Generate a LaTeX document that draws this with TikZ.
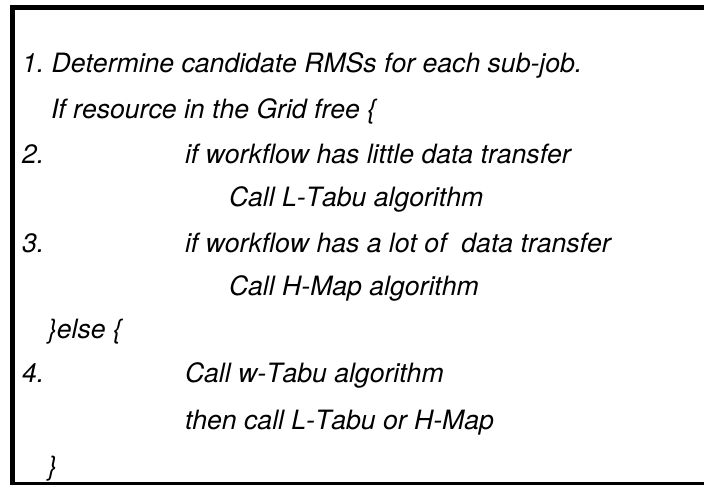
\documentclass[tikz,border=0pt]{standalone}
\usepackage{fontspec}
\setmainfont[Kerning=Off]{TeX Gyre Heros}
\frenchspacing
\begin{document}
\begin{tikzpicture}[x=1pt,y=-1pt,
  codeline/.style={anchor=base west,inner sep=0pt,outer sep=0pt,
    font=\fontsize{26.6}{30}\selectfont\itshape},
  rule/.style={fill=black}]
\useasboundingbox (0,0) rectangle (704,485);
% frame: heavy top and left rules, thinner bottom rule
\fill[rule] (9.5,5) rectangle (704,10);
\fill[rule] (9.5,5) rectangle (15,484.5);
\fill[rule] (9.5,482) rectangle (704,484.5);
% pseudo-code lines
\node[codeline] (l1)  at (22,72)  {1. Determine candidate RMSs for each sub-job.};
\node[codeline] (l2)  at (51,118) {If resource in the Grid free \{};
\node[codeline] (n2)  at (22,163) {2.};
\node[codeline] (l3)  at (185,163) {if workflow has little data transfer};
\node[codeline] (l4)  at (229,206) {Call L-Tabu algorithm};
\node[codeline] (n3)  at (22,252) {3.};
\node[codeline] (l5)  at (185,252) {if workflow has a lot of\ \ data transfer};
\node[codeline] (l6)  at (229,295) {Call H-Map algorithm};
\node[codeline] (l7)  at (48,338) {\}else \{};
\node[codeline] (n4)  at (22,382) {4.};
\node[codeline] (l8)  at (185,382) {Call w-Tabu algorithm};
\node[codeline] (l9)  at (185,429) {then call L-Tabu or H-Map};
\node[codeline] (l10) at (48,475) {\}};
\end{tikzpicture}
\end{document}
